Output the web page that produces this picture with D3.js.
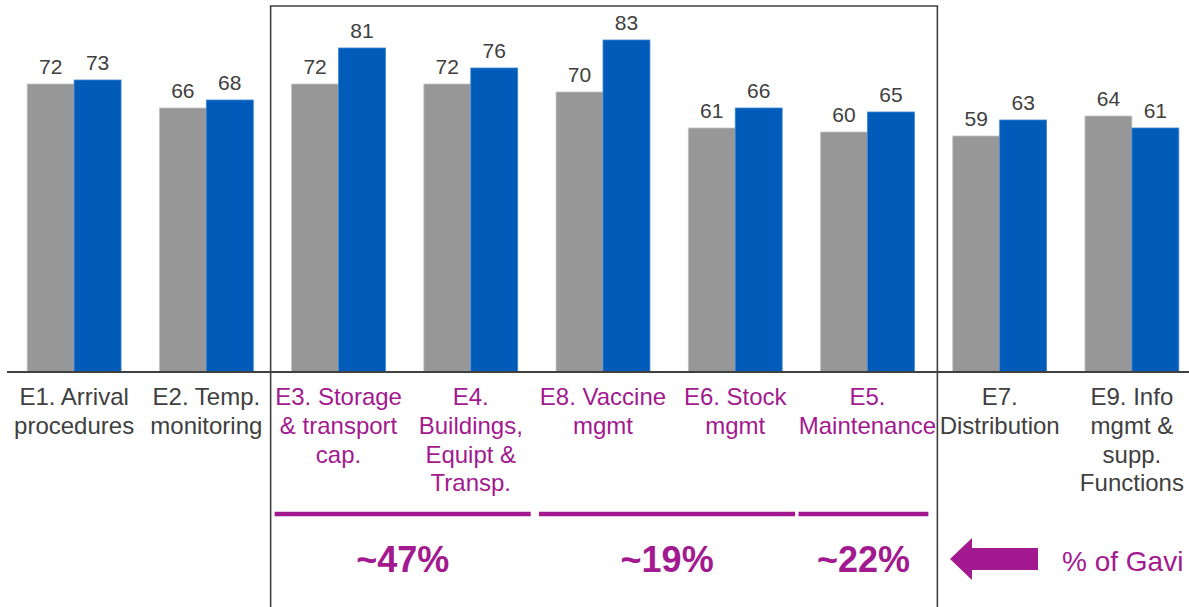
<!doctype html>
<html lang="en">
<head>
<meta charset="utf-8">
<title>EVM scores</title>
<style>
    body { margin: 0; background: #fff; }
    svg { display: block; font-family: "Liberation Sans", Arial, sans-serif; }
</style>
</head>
<body>
<svg width="1189" height="607"></svg>
<script src="https://d3js.org/d3.v7.min.js"></script>
<script>
    // criteria, in the order they are drawn
    var categories = ["E1", "E2", "E3", "E4", "E8", "E6", "E5", "E7", "E9"];
    var catLabels = [
        ["E1. Arrival", "procedures"],
        ["E2. Temp.", "monitoring"],
        ["E3. Storage", "& transport", "cap."],
        ["E4.", "Buildings,", "Equipt &", "Transp."],
        ["E8. Vaccine", "mgmt"],
        ["E6. Stock", "mgmt"],
        ["E5.", "Maintenance"],
        ["E7.", "Distribution"],
        ["E9. Info", "mgmt &", "supp.", "Functions"]
    ];
    var highlighted = ["E3", "E4", "E8", "E6", "E5"];

    var greyScores = [72, 66, 72, 72, 70, 61, 60, 59, 64];
    var blueScores = [73, 68, 81, 76, 83, 66, 65, 63, 61];

    // share brackets under the highlighted criteria
    var shareGroups = [["E3", "E4"], ["E8", "E6"], ["E5"]];
    var shareLabels = ["~47%", "~19%", "~22%"];
    var arrowText = "% of Gavi";

    var purple = "#a3198f",
        ink = "#404040",
        grey = "#979797",
        blue = "#005bb9";

    var svg = d3.select("svg");

    var baseY = 372;

    var x = d3.scaleBand()
        .domain(categories)
        .range([8, 1198])
        .paddingInner(0.29)
        .paddingOuter(0.145);

    var xs = d3.scaleBand()
        .domain(["grey", "blue"])
        .range([0, x.bandwidth()]);

    var y = d3.scaleLinear()
        .domain([0, 93])
        .range([baseY, 0]);

    var rows = categories.map(function (c, i) {
        return { cat: c, grey: greyScores[i], blue: blueScores[i], label: catLabels[i] };
    });

    var groups = svg.append("g")
        .selectAll("g")
        .data(rows)
        .enter().append("g")
        .attr("transform", function (d) { return "translate(" + x(d.cat) + ",0)"; });

    var bars = groups.selectAll("rect")
        .data(function (d) {
            return [{ key: "grey", v: d.grey }, { key: "blue", v: d.blue }];
        })
        .enter();

    bars.append("rect")
        .attr("x", function (d) { return xs(d.key); })
        .attr("y", function (d) { return y(d.v); })
        .attr("width", xs.bandwidth())
        .attr("height", function (d) { return baseY - y(d.v); })
        .attr("fill", function (d) { return d.key === "grey" ? grey : blue; })
        .attr("stroke", function (d) { return d.key === "grey" ? "#c4c4c4" : "#3f86d4"; })
        .attr("stroke-width", 0.8);

    bars.append("text")
        .attr("x", function (d) { return xs(d.key) + xs.bandwidth() / 2; })
        .attr("y", function (d) { return y(d.v) - 10; })
        .attr("text-anchor", "middle")
        .attr("font-size", "21px")
        .attr("fill", ink)
        .text(function (d) { return d.v; });

    // category labels
    groups.append("text")
        .attr("text-anchor", "middle")
        .attr("font-size", "24px")
        .attr("fill", function (d) { return highlighted.indexOf(d.cat) >= 0 ? purple : ink; })
        .selectAll("tspan")
        .data(function (d) { return d.label; })
        .enter().append("tspan")
        .attr("x", x.bandwidth() / 2)
        .attr("y", function (d, i) { return 405 + i * 28.8; })
        .text(function (d) { return d; });

    // baseline
    svg.append("line")
        .attr("x1", 7).attr("x2", 1189)
        .attr("y1", baseY).attr("y2", baseY)
        .attr("stroke", ink)
        .attr("stroke-width", 2);

    // box round the highlighted criteria
    var boxLeft = x("E3") - 21,
        boxRight = x("E5") + x.bandwidth() + 23;
    svg.append("path")
        .attr("d", "M" + boxLeft + ",607V6H" + boxRight + "V607")
        .attr("fill", "none")
        .attr("stroke", ink)
        .attr("stroke-width", 1.6);

    // brackets and shares
    shareGroups.forEach(function (g, i) {
        var a = x(g[0]) + x.bandwidth() / 2,
            b = x(g[g.length - 1]) + x.bandwidth() / 2,
            mid = (a + b) / 2,
            half = (b - a) / 2 + x.bandwidth() / 2 + (g.length > 1 ? 15 : 18);
        mid = mid - (g.length > 1 ? 2 : 4);
        svg.append("line")
            .attr("x1", mid - half).attr("x2", mid + half)
            .attr("y1", 514).attr("y2", 514)
            .attr("stroke", purple)
            .attr("stroke-width", 4.5);
        svg.append("text")
            .attr("x", mid)
            .attr("y", 572)
            .attr("text-anchor", "middle")
            .attr("font-size", "36px")
            .attr("font-weight", "bold")
            .attr("fill", purple)
            .text(shareLabels[i]);
    });

    // arrow pointing back at the shares
    svg.append("path")
        .attr("d", "M950,559L972,538V548H1038V570H972V580Z")
        .attr("fill", purple);

    svg.append("text")
        .attr("x", 1062)
        .attr("y", 571)
        .attr("font-size", "28px")
        .attr("fill", purple)
        .text(arrowText);
</script>
</body>
</html>
